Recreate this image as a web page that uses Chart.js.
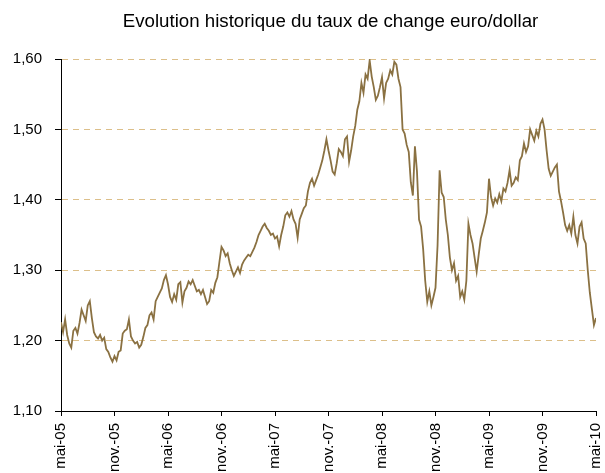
<!DOCTYPE html>
<html><head><meta charset="utf-8">
<script src="https://cdn.jsdelivr.net/npm/chart.js@4"></script>
<style>html,body{margin:0;padding:0;background:#fff;overflow:hidden;}</style>
</head><body>
<canvas id="c" width="605" height="473" style="display:block;width:605px;height:473px"></canvas>
<script>
const chartTitle = 'Evolution historique du taux de change euro/dollar';
const tickLabels = ['mai-05','nov.-05','mai-06','nov.-06','mai-07','nov.-07','mai-08','nov.-08','mai-09','nov.-09','mai-10'];
const monthsSpan = 60;
// weekly EUR/USD readings, May 2005 -> May 2010
const rates = [
 1.226,1.212,1.230,1.208,1.196,1.190,1.214,1.218,1.210,1.225,
 1.244,1.236,1.228,1.250,1.256,1.232,1.212,1.206,1.203,1.208,
 1.200,1.204,1.188,1.184,1.176,1.170,1.178,1.172,1.184,1.186,
 1.210,1.214,1.216,1.230,1.206,1.200,1.196,1.198,1.190,1.194,
 1.205,1.218,1.222,1.236,1.240,1.230,1.256,1.262,1.268,1.274,
 1.286,1.293,1.280,1.262,1.255,1.266,1.258,1.280,1.283,1.254,
 1.270,1.275,1.284,1.280,1.286,1.278,1.270,1.272,1.266,1.272,
 1.262,1.252,1.256,1.272,1.268,1.282,1.290,1.312,1.333,1.328,
 1.320,1.324,1.310,1.300,1.292,1.298,1.304,1.296,1.308,1.314,
 1.318,1.322,1.320,1.326,1.332,1.340,1.350,1.356,1.362,1.366,
 1.360,1.356,1.350,1.352,1.345,1.348,1.334,1.350,1.362,1.378,
 1.382,1.376,1.384,1.372,1.366,1.346,1.372,1.380,1.388,1.392,
 1.412,1.424,1.430,1.420,1.428,1.436,1.446,1.456,1.470,1.486,
 1.470,1.456,1.440,1.436,1.452,1.472,1.468,1.462,1.486,1.490,
 1.454,1.470,1.490,1.505,1.528,1.540,1.566,1.552,1.578,1.572,
 1.598,1.575,1.560,1.542,1.548,1.560,1.574,1.544,1.566,1.572,
 1.584,1.578,1.596,1.592,1.572,1.560,1.500,1.494,1.478,1.468,
 1.425,1.406,1.476,1.440,1.372,1.362,1.330,1.285,1.255,1.270,
 1.250,1.262,1.275,1.335,1.442,1.410,1.404,1.372,1.350,1.318,
 1.300,1.310,1.285,1.292,1.262,1.270,1.258,1.285,1.366,1.350,
 1.338,1.318,1.298,1.322,1.345,1.356,1.368,1.382,1.430,1.404,
 1.392,1.402,1.396,1.408,1.398,1.416,1.412,1.424,1.442,1.420,
 1.424,1.432,1.428,1.456,1.462,1.480,1.468,1.476,1.500,1.492,
 1.484,1.498,1.490,1.508,1.514,1.500,1.470,1.444,1.434,1.440,
 1.446,1.450,1.412,1.398,1.382,1.364,1.356,1.364,1.352,1.376,
 1.350,1.338,1.362,1.368,1.345,1.338,1.300,1.268,1.245,1.222,1.232
];
const yMin = 1.10, yMax = 1.60, yStep = 0.10;

const FONT = '"Liberation Sans", Arial, Helvetica, sans-serif';
const points = rates.map((v, i) => ({ x: i * monthsSpan / (rates.length - 1), y: v }));

const titlePlugin = {
  id: 'centerTitle',
  afterDraw(chart) {
    const { ctx, chartArea } = chart;
    ctx.save();
    ctx.font = '18.7px ' + FONT;
    ctx.fillStyle = '#000';
    ctx.textAlign = 'center';
    ctx.textBaseline = 'middle';
    ctx.fillText(chartTitle, (chartArea.left + chartArea.right) / 2 + 2, 22);
    ctx.restore();
  }
};

new Chart(document.getElementById('c'), {
  type: 'line',
  data: {
    datasets: [{
      data: points,
      borderColor: '#8a7142',
      borderWidth: 1.8,
      pointRadius: 0,
      tension: 0,
      fill: false
    }]
  },
  options: {
    responsive: false,
    animation: false,
    devicePixelRatio: 1,
    layout: { padding: { top: 59, right: 9, left: 0, bottom: 0 } },
    plugins: { legend: { display: false }, tooltip: { enabled: false }, title: { display: false } },
    scales: {
      x: {
        type: 'linear',
        min: 0, max: monthsSpan,
        z: 1,
        afterFit: s => { s.height = 62; s.paddingLeft = 0; s.paddingRight = 0; },
        ticks: {
          stepSize: 6, autoSkip: false, minRotation: 90, maxRotation: 90,
          color: '#000', font: { family: FONT, size: 15 }, padding: 7,
          callback: v => tickLabels[Math.round(v / 6)] ?? ''
        },
        grid: { drawOnChartArea: false, drawTicks: true, tickLength: 5, tickColor: '#000', color: '#000', tickBorderDash: [] },
        border: { color: '#000', width: 1 }
      },
      y: {
        min: yMin, max: yMax,
        afterFit: s => { s.width = 61; s.paddingTop = 0; s.paddingBottom = 0; },
        ticks: {
          stepSize: yStep, color: '#000', font: { family: FONT, size: 15 }, padding: 13,
          callback: v => Number(v).toFixed(2).replace('.', ',')
        },
        grid: {
          color: '#dcbf8a',
          lineWidth: 1, tickLength: 6, tickColor: '#000', tickBorderDash: []
        },
        border: { color: '#000', width: 1, dash: [6, 5] }
      }
    }
  },
  plugins: [titlePlugin]
});
</script>
</body></html>
